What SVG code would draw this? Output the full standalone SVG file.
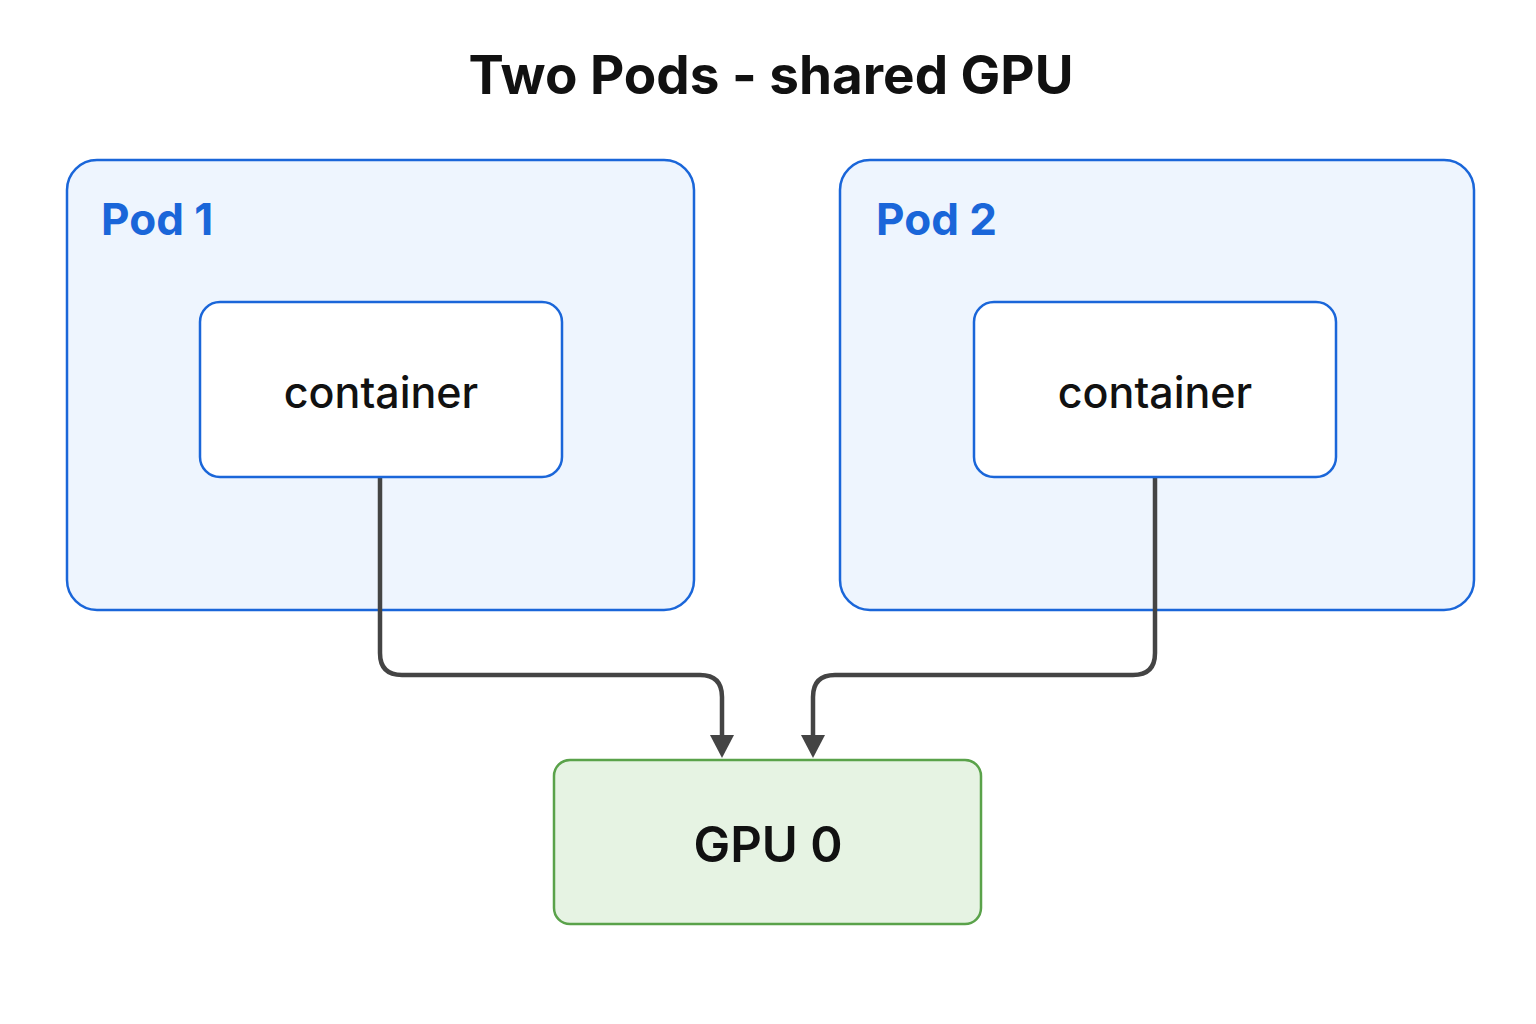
<svg xmlns="http://www.w3.org/2000/svg" width="1536" height="1024" viewBox="0 0 1536 1024">
<defs>
<style>
.pod{fill:#EEF5FE;stroke:#1A66D9;stroke-width:2.5}
.cont{fill:#FFFFFF;stroke:#1A66D9;stroke-width:2.5}
.gpu{fill:#E6F3E3;stroke:#5AA24A;stroke-width:2.5}
.podlbl{font-family:Inter,"Liberation Sans",sans-serif;font-weight:700;font-size:44px;fill:#1A66D9}
.ctxt{font-family:Inter,"Liberation Sans",sans-serif;font-weight:500;font-size:43px;fill:#111;text-anchor:middle}
.gtxt{font-family:Inter,"Liberation Sans",sans-serif;font-weight:600;font-size:49px;fill:#111;text-anchor:middle}
.title{font-family:Inter,"Liberation Sans",sans-serif;font-weight:700;font-size:53px;fill:#111;text-anchor:middle}
.edge{fill:none;stroke:#444;stroke-width:4.5}
.head{fill:#444}
</style>
</defs>
<rect width="1536" height="1024" fill="#FFFFFF"/>
<text class="title" x="771" y="94">Two Pods - shared GPU</text>
<g id="pod1">
<rect class="pod" x="67" y="160" width="627" height="450" rx="30"/>
<text class="podlbl" x="101" y="235">Pod 1</text>
</g>
<g id="pod2">
<rect class="pod" x="840" y="160" width="634" height="450" rx="30"/>
<text class="podlbl" x="876" y="235">Pod 2</text>
</g>
<g id="connectors">
<path class="edge" d="M380,478 V653 Q380,675 402,675 H700 Q722,675 722,697 V738"/>
<polygon class="head" points="710,735 734,735 722,758"/>
<path class="edge" d="M1155,478 V653 Q1155,675 1133,675 H835 Q813,675 813,697 V738"/>
<polygon class="head" points="801,735 825,735 813,758"/>
</g>
<g id="container1">
<rect class="cont" x="200" y="302" width="362" height="175" rx="20"/>
<text class="ctxt" x="381" y="408">container</text>
</g>
<g id="container2">
<rect class="cont" x="974" y="302" width="362" height="175" rx="20"/>
<text class="ctxt" x="1155" y="408">container</text>
</g>
<g id="gpu0">
<rect class="gpu" x="554" y="760" width="427" height="164" rx="16"/>
<text class="gtxt" x="768" y="862">GPU 0</text>
</g>
</svg>
